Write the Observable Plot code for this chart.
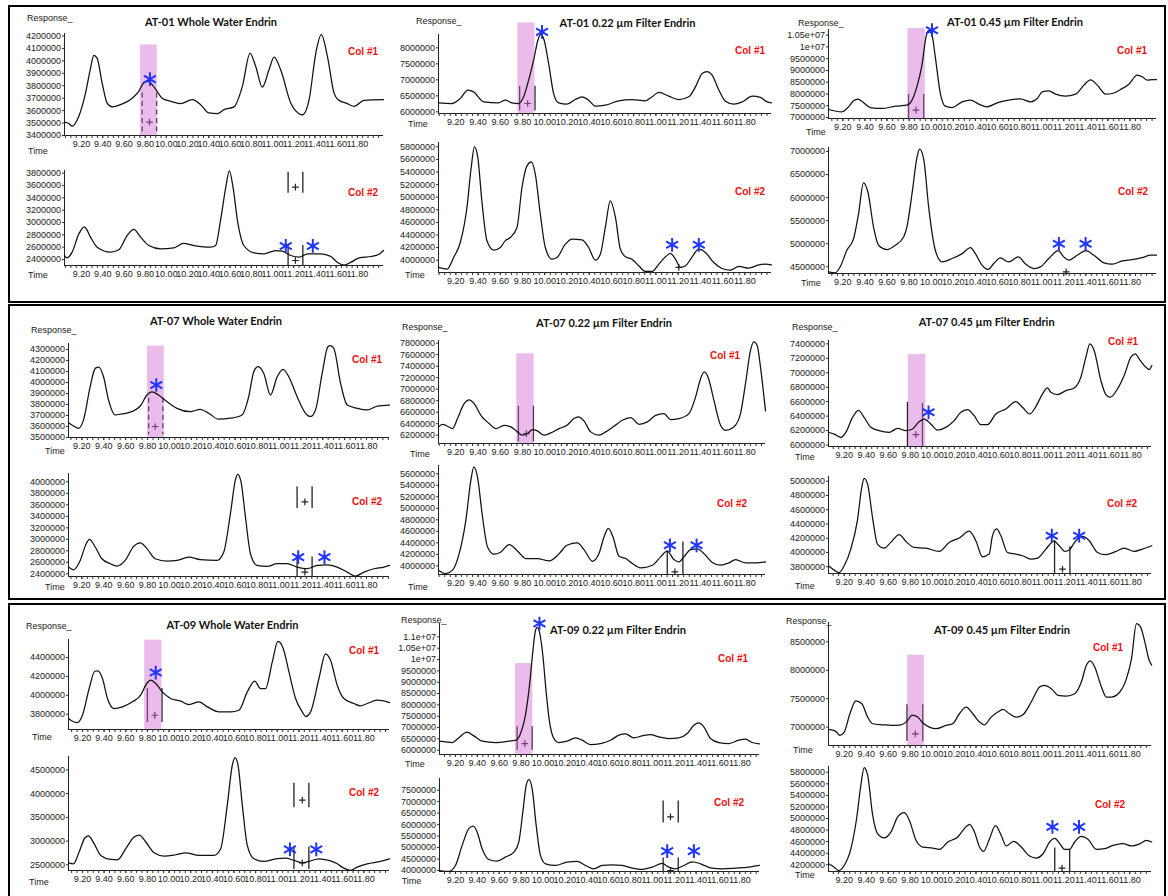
<!DOCTYPE html>
<html><head><meta charset="utf-8">
<script src="https://cdn.jsdelivr.net/npm/d3@7"></script>
<script src="https://cdn.jsdelivr.net/npm/@observablehq/plot@0.6"></script>
<style>
body{margin:0;background:#fff;}
#page{position:relative;width:1168px;height:896px;overflow:hidden;font-family:"Liberation Sans",Arial,sans-serif;color:#1a1a1a;}
.box{position:absolute;border:2px solid #000;box-sizing:border-box;}
.lbl{position:absolute;white-space:nowrap;line-height:1;}
.title{font-family:Lato,"Liberation Sans",sans-serif;font-weight:700;font-size:11px;transform:translate(-50%,-50%);color:#111;}
.resp{font-size:9px;transform:translateY(-50%);}
.time{font-size:9px;transform:translateY(-50%);}
.col{font-weight:700;font-size:10px;color:#f01010;transform:translate(-50%,-50%);}
</style></head><body><div id="page"></div>
<script>
// ---------- DATA (time in min, response in millions) ----------
const xTickLabels = [9.2,9.4,9.6,9.8,10.0,10.2,10.4,10.6,10.8,11.0,11.2,11.4,11.6,11.8];
const titles = ["AT-01 Whole Water Endrin","AT-01 0.22 µm Filter Endrin","AT-01 0.45 µm Filter Endrin",
  "AT-07 Whole Water Endrin","AT-07 0.22 µm Filter Endrin","AT-07 0.45 µm Filter Endrin",
  "AT-09 Whole Water Endrin","AT-09 0.22 µm Filter Endrin","AT-09 0.45 µm Filter Endrin"];

// AT-01 Whole Water
const at01WW_c1 = [[9.04,3.507],[9.08,3.496],[9.112,3.475],[9.175,3.555],[9.238,3.741],[9.285,3.94],[9.316,4.045],[9.348,4.02],[9.395,3.82],[9.442,3.66],[9.49,3.63],[9.568,3.648],[9.678,3.70],[9.74,3.755],[9.788,3.825],[9.828,3.835],[9.898,3.773],[9.96,3.70],[10.04,3.675],[10.134,3.656],[10.244,3.688],[10.323,3.648],[10.40,3.581],[10.48,3.576],[10.543,3.608],[10.637,3.63],[10.716,3.795],[10.788,4.061],[10.842,3.955],[10.904,3.789],[10.967,3.928],[11.015,4.03],[11.077,3.928],[11.172,3.661],[11.25,3.575],[11.282,3.565],[11.345,3.688],[11.408,4.061],[11.46,4.21],[11.518,4.035],[11.58,3.741],[11.618,3.688],[11.706,3.656],[11.77,3.635],[11.863,3.683],[12.046,3.688]];
const at01WW_c2 = [[9.04,2.465],[9.065,2.427],[9.112,2.519],[9.175,2.816],[9.228,2.93],[9.285,2.762],[9.348,2.6],[9.474,2.519],[9.552,2.557],[9.63,2.789],[9.694,2.89],[9.757,2.762],[9.835,2.627],[9.945,2.573],[10.07,2.589],[10.16,2.66],[10.26,2.627],[10.417,2.6],[10.464,2.627],[10.51,3.032],[10.56,3.573],[10.593,3.835],[10.628,3.573],[10.67,3.032],[10.73,2.627],[10.826,2.508],[10.92,2.492],[11.03,2.546],[11.093,2.535],[11.172,2.465],[11.25,2.438],[11.33,2.492],[11.455,2.492],[11.55,2.449],[11.61,2.357],[11.675,2.31],[11.74,2.357],[11.818,2.427],[11.93,2.449],[12.0,2.481],[12.046,2.546]];
// AT-01 0.22
const at01F022_c1 = [[9.044,6.28],[9.164,6.26],[9.24,6.42],[9.308,6.68],[9.36,6.625],[9.45,6.31],[9.584,6.28],[9.644,6.365],[9.704,6.28],[9.765,6.26],[9.81,6.47],[9.855,6.99],[9.9,7.615],[9.94,8.26],[9.963,8.42],[9.99,8.29],[10.035,7.51],[10.08,6.57],[10.125,6.28],[10.2,6.24],[10.275,6.385],[10.335,6.47],[10.395,6.365],[10.455,6.18],[10.545,6.21],[10.665,6.344],[10.785,6.385],[10.905,6.344],[10.966,6.47],[11.026,6.61],[11.116,6.49],[11.206,6.385],[11.296,6.47],[11.356,6.78],[11.416,7.2],[11.46,7.26],[11.506,7.146],[11.566,6.68],[11.626,6.33],[11.7,6.24],[11.777,6.31],[11.867,6.49],[11.94,6.45],[12.0,6.31],[12.04,6.28]];
const at01F022_c2 = [[9.044,3.884],[9.12,3.857],[9.18,4.042],[9.24,4.28],[9.3,4.836],[9.338,5.472],[9.368,5.80],[9.398,5.63],[9.434,4.942],[9.48,4.307],[9.54,4.159],[9.6,4.201],[9.644,4.307],[9.69,4.36],[9.75,4.519],[9.795,5.154],[9.84,5.498],[9.879,5.56],[9.915,5.366],[9.96,4.73],[10.005,4.201],[10.065,4.016],[10.11,4.042],[10.185,4.254],[10.245,4.334],[10.335,4.323],[10.395,4.201],[10.455,4.0],[10.5,4.095],[10.545,4.519],[10.59,4.942],[10.636,4.678],[10.68,4.175],[10.726,4.053],[10.785,4.016],[10.846,3.91],[10.906,3.82],[10.966,3.82],[11.026,3.937],[11.086,4.053],[11.13,4.106],[11.176,4.016],[11.22,3.884],[11.266,3.91],[11.326,4.053],[11.386,4.175],[11.446,4.122],[11.52,3.963],[11.596,3.868],[11.67,3.84],[11.746,3.9],[11.837,3.873],[11.927,3.926],[11.987,3.937],[12.04,3.926]];
// AT-01 0.45
const at01F045_c1 = [[9.07,7.34],[9.19,7.24],[9.251,7.453],[9.297,7.71],[9.336,7.78],[9.378,7.666],[9.448,7.425],[9.554,7.383],[9.675,7.482],[9.78,7.524],[9.826,7.737],[9.87,8.3],[9.916,9.225],[9.953,10.43],[9.977,10.7],[10.007,10.5],[10.037,9.58],[10.083,8.02],[10.128,7.482],[10.188,7.425],[10.28,7.666],[10.355,7.74],[10.43,7.567],[10.506,7.453],[10.597,7.624],[10.70,7.737],[10.808,7.79],[10.9,7.666],[10.96,7.808],[11.005,8.09],[11.065,8.134],[11.126,7.992],[11.216,7.907],[11.307,7.992],[11.383,8.375],[11.443,8.6],[11.504,8.375],[11.58,7.992],[11.64,8.02],[11.715,8.19],[11.79,8.417],[11.866,8.8],[11.911,8.73],[11.957,8.587],[12.002,8.615],[12.04,8.615]];
const at01F045_c2 = [[9.07,4.392],[9.13,4.37],[9.176,4.5],[9.236,4.859],[9.297,5.11],[9.342,5.65],[9.387,6.32],[9.427,6.116],[9.478,5.362],[9.523,4.967],[9.6,4.874],[9.675,4.967],[9.75,5.147],[9.78,5.362],[9.826,6.08],[9.871,6.87],[9.895,7.05],[9.932,6.835],[9.977,5.793],[10.037,4.859],[10.098,4.608],[10.188,4.68],[10.28,4.787],[10.355,4.917],[10.4,4.787],[10.46,4.536],[10.515,4.443],[10.566,4.572],[10.627,4.694],[10.70,4.608],[10.79,4.716],[10.85,4.572],[10.93,4.464],[10.99,4.5],[11.065,4.68],[11.15,4.85],[11.2,4.716],[11.247,4.644],[11.322,4.752],[11.4,4.85],[11.473,4.752],[11.564,4.586],[11.64,4.557],[11.73,4.629],[11.82,4.658],[11.91,4.7],[11.987,4.752],[12.04,4.752]];
// AT-07 Whole Water
const at07WW_c1 = [[9.078,3.635],[9.124,3.605],[9.17,3.584],[9.215,3.66],[9.276,3.962],[9.322,4.128],[9.355,4.14],[9.398,4.052],[9.444,3.84],[9.505,3.705],[9.566,3.714],[9.657,3.735],[9.734,3.786],[9.795,3.886],[9.84,3.915],[9.9,3.886],[9.977,3.826],[10.069,3.765],[10.19,3.735],[10.282,3.756],[10.358,3.72],[10.45,3.666],[10.557,3.675],[10.663,3.705],[10.724,3.871],[10.77,4.098],[10.81,4.145],[10.862,4.082],[10.923,3.886],[10.984,4.052],[11.038,4.12],[11.09,4.052],[11.166,3.871],[11.243,3.72],[11.288,3.69],[11.334,3.75],[11.395,4.082],[11.447,4.324],[11.471,4.335],[11.502,4.309],[11.563,3.992],[11.624,3.795],[11.716,3.765],[11.807,3.75],[11.898,3.786],[12.01,3.795]];
const at07WW_c2 = [[9.078,2.517],[9.124,2.47],[9.185,2.633],[9.24,2.924],[9.27,3.0],[9.322,2.866],[9.383,2.662],[9.46,2.575],[9.52,2.534],[9.596,2.633],[9.673,2.877],[9.734,2.94],[9.795,2.837],[9.87,2.662],[9.977,2.621],[10.069,2.633],[10.176,2.69],[10.282,2.645],[10.435,2.633],[10.496,2.778],[10.557,3.447],[10.602,4.029],[10.624,4.13],[10.654,4.0],[10.694,3.389],[10.74,2.749],[10.8,2.546],[10.892,2.528],[10.984,2.575],[11.075,2.575],[11.166,2.517],[11.258,2.488],[11.35,2.546],[11.44,2.557],[11.532,2.517],[11.624,2.43],[11.7,2.36],[11.776,2.43],[11.868,2.488],[11.96,2.517],[12.01,2.546]];
// AT-07 0.22
const at07F022_c1 = [[9.044,6.344],[9.08,6.39],[9.125,6.356],[9.17,6.315],[9.215,6.49],[9.275,6.749],[9.32,6.815],[9.365,6.749],[9.425,6.546],[9.5,6.402],[9.56,6.315],[9.634,6.373],[9.694,6.344],[9.754,6.258],[9.8,6.2],[9.844,6.229],[9.89,6.298],[9.934,6.275],[9.994,6.2],[10.054,6.24],[10.13,6.315],[10.2,6.373],[10.263,6.49],[10.302,6.52],[10.353,6.448],[10.413,6.258],[10.488,6.2],[10.548,6.258],[10.623,6.356],[10.698,6.46],[10.773,6.506],[10.848,6.39],[10.923,6.431],[10.998,6.546],[11.072,6.575],[11.132,6.471],[11.207,6.488],[11.297,6.575],[11.357,6.864],[11.402,7.182],[11.435,7.3],[11.471,7.199],[11.522,6.806],[11.582,6.373],[11.627,6.286],[11.701,6.344],[11.761,6.575],[11.806,7.095],[11.851,7.673],[11.881,7.82],[11.911,7.76],[11.941,7.384],[11.986,6.621]];
const at07F022_c2 = [[9.044,3.925],[9.11,3.865],[9.17,3.925],[9.23,4.213],[9.29,4.791],[9.335,5.484],[9.362,5.72],[9.395,5.542],[9.44,4.849],[9.485,4.329],[9.545,4.202],[9.605,4.242],[9.68,4.37],[9.754,4.26],[9.83,4.127],[9.934,4.127],[10.04,4.086],[10.13,4.213],[10.2,4.358],[10.293,4.398],[10.353,4.283],[10.43,4.08],[10.488,4.213],[10.533,4.502],[10.572,4.65],[10.614,4.502],[10.668,4.167],[10.728,4.127],[10.788,4.04],[10.863,3.965],[10.968,4.011],[11.042,4.156],[11.102,4.255],[11.162,4.11],[11.207,4.069],[11.252,4.156],[11.312,4.283],[11.372,4.295],[11.432,4.213],[11.507,4.058],[11.582,4.011],[11.657,4.052],[11.717,4.11],[11.806,4.052],[11.896,4.052],[11.986,4.069]];
// AT-07 0.45
const at07F045_c1 = [[9.058,6.175],[9.109,6.152],[9.17,6.106],[9.215,6.175],[9.276,6.383],[9.33,6.48],[9.381,6.383],[9.442,6.245],[9.517,6.199],[9.608,6.175],[9.684,6.231],[9.76,6.199],[9.82,6.222],[9.874,6.314],[9.926,6.36],[9.986,6.291],[10.046,6.208],[10.122,6.245],[10.198,6.337],[10.258,6.453],[10.319,6.49],[10.379,6.406],[10.44,6.282],[10.5,6.282],[10.575,6.43],[10.666,6.499],[10.757,6.6],[10.817,6.522],[10.884,6.43],[10.938,6.531],[10.999,6.707],[11.044,6.79],[11.074,6.73],[11.135,6.698],[11.21,6.753],[11.286,6.79],[11.346,6.938],[11.392,7.215],[11.428,7.4],[11.467,7.308],[11.528,6.892],[11.573,6.698],[11.612,6.661],[11.679,6.776],[11.739,6.961],[11.8,7.215],[11.839,7.26],[11.881,7.178],[11.936,7.077],[11.966,7.044],[11.99,7.1]];
const at07F045_c2 = [[9.058,3.814],[9.109,3.753],[9.155,3.72],[9.2,3.814],[9.26,4.048],[9.32,4.447],[9.36,4.916],[9.381,5.04],[9.412,4.962],[9.457,4.494],[9.502,4.119],[9.563,4.062],[9.623,4.142],[9.699,4.25],[9.76,4.156],[9.835,4.072],[9.94,4.062],[10.062,4.015],[10.152,4.142],[10.243,4.203],[10.334,4.3],[10.394,4.166],[10.454,3.94],[10.515,3.978],[10.545,4.236],[10.582,4.33],[10.621,4.236],[10.681,4.001],[10.757,3.978],[10.817,3.955],[10.893,3.908],[10.953,3.922],[11.029,4.048],[11.104,4.16],[11.15,4.095],[11.204,4.015],[11.24,4.034],[11.301,4.166],[11.361,4.225],[11.422,4.166],[11.497,4.001],[11.573,3.969],[11.664,4.015],[11.739,4.062],[11.83,4.015],[11.906,4.048],[11.99,4.095]];
// AT-09 Whole Water
const at09WW_c1 = [[9.071,3.754],[9.108,3.726],[9.154,3.712],[9.2,3.789],[9.262,4.072],[9.314,4.255],[9.34,4.26],[9.385,4.178],[9.431,3.966],[9.492,3.86],[9.569,3.878],[9.662,3.931],[9.738,4.001],[9.794,4.125],[9.831,4.16],[9.877,4.125],[9.938,4.036],[10.015,3.966],[10.108,3.938],[10.185,3.902],[10.277,3.931],[10.354,3.878],[10.462,3.825],[10.569,3.825],[10.646,3.842],[10.723,4.036],[10.791,4.15],[10.846,4.072],[10.892,4.072],[10.954,4.354],[11.006,4.57],[11.055,4.495],[11.108,4.248],[11.169,3.966],[11.231,3.825],[11.262,3.775],[11.308,3.825],[11.385,4.178],[11.446,4.44],[11.492,4.372],[11.554,4.107],[11.615,3.966],[11.708,3.913],[11.769,3.888],[11.831,3.913],[11.923,3.948],[12.037,3.923]];
const at09WW_c2 = [[9.071,2.542],[9.117,2.521],[9.169,2.769],[9.222,3.065],[9.255,3.11],[9.308,2.945],[9.369,2.698],[9.462,2.613],[9.523,2.606],[9.6,2.839],[9.677,3.087],[9.725,3.125],[9.785,2.981],[9.862,2.754],[9.954,2.684],[10.062,2.712],[10.154,2.75],[10.277,2.698],[10.415,2.698],[10.477,2.839],[10.538,3.758],[10.585,4.606],[10.609,4.76],[10.637,4.606],[10.677,3.758],[10.723,2.91],[10.785,2.627],[10.877,2.571],[10.985,2.627],[11.077,2.641],[11.154,2.592],[11.231,2.542],[11.292,2.571],[11.385,2.627],[11.477,2.592],[11.554,2.521],[11.615,2.429],[11.677,2.385],[11.738,2.45],[11.831,2.521],[11.954,2.571],[12.037,2.627]];
// AT-09 0.22
const at09F022_c1 = [[9.054,6.397],[9.109,6.368],[9.17,6.338],[9.23,6.544],[9.305,6.8],[9.368,6.632],[9.444,6.397],[9.566,6.338],[9.688,6.397],[9.755,6.441],[9.795,6.735],[9.84,7.544],[9.877,8.868],[9.907,10.338],[9.932,11.294],[9.948,11.42],[9.968,11.221],[9.999,10.191],[10.029,8.574],[10.06,7.25],[10.1,6.515],[10.145,6.338],[10.221,6.397],[10.298,6.544],[10.359,6.441],[10.435,6.25],[10.526,6.294],[10.618,6.441],[10.694,6.662],[10.755,6.72],[10.831,6.544],[10.907,6.632],[10.984,6.691],[11.06,6.588],[11.151,6.515],[11.243,6.544],[11.319,6.735],[11.38,7.103],[11.426,7.2],[11.471,7.029],[11.532,6.515],[11.609,6.338],[11.7,6.294],[11.791,6.441],[11.852,6.485],[11.913,6.338],[11.98,6.279]];
const at09F022_c2 = [[9.054,4.0],[9.139,3.96],[9.2,4.219],[9.261,5.094],[9.322,5.823],[9.362,5.93],[9.398,5.677],[9.444,4.948],[9.505,4.481],[9.581,4.408],[9.657,4.583],[9.734,4.802],[9.779,5.24],[9.816,6.552],[9.847,7.719],[9.871,7.96],[9.901,7.573],[9.938,5.969],[9.977,4.656],[10.023,4.292],[10.115,4.219],[10.221,4.365],[10.313,4.394],[10.389,4.219],[10.465,4.073],[10.541,4.219],[10.633,4.248],[10.724,4.219],[10.816,4.102],[10.907,4.044],[10.999,4.146],[11.09,4.31],[11.151,4.146],[11.212,4.073],[11.288,4.219],[11.365,4.38],[11.441,4.292],[11.532,4.117],[11.639,4.073],[11.761,4.102],[11.883,4.146],[11.98,4.219]];
// AT-09 0.45
const at09F045_c1 = [[9.057,6.959],[9.124,6.924],[9.16,6.853],[9.2,6.912],[9.252,7.235],[9.306,7.46],[9.361,7.412],[9.413,7.176],[9.459,7.059],[9.55,7.041],[9.641,7.029],[9.717,7.041],[9.778,7.118],[9.817,7.21],[9.869,7.176],[9.915,7.076],[9.976,7.0],[10.036,6.971],[10.128,7.029],[10.188,7.059],[10.249,7.235],[10.31,7.35],[10.371,7.235],[10.432,7.088],[10.477,7.041],[10.538,7.176],[10.599,7.265],[10.645,7.31],[10.705,7.235],[10.766,7.176],[10.827,7.218],[10.903,7.441],[10.979,7.706],[11.019,7.735],[11.086,7.676],[11.147,7.559],[11.222,7.547],[11.298,7.588],[11.359,7.794],[11.405,8.088],[11.441,8.165],[11.481,8.059],[11.542,7.706],[11.587,7.529],[11.633,7.529],[11.709,7.618],[11.77,7.853],[11.816,8.206],[11.861,8.82],[11.898,8.765],[11.937,8.5],[11.977,8.176],[12.0,8.088]];
const at09F045_c2 = [[9.057,4.217],[9.109,4.159],[9.148,4.101],[9.2,4.188],[9.261,4.478],[9.313,5.0],[9.352,5.58],[9.382,5.88],[9.413,5.754],[9.459,5.058],[9.504,4.739],[9.565,4.664],[9.626,4.768],[9.687,5.029],[9.747,5.1],[9.793,4.971],[9.854,4.623],[9.915,4.507],[10.006,4.49],[10.067,4.467],[10.143,4.594],[10.234,4.681],[10.295,4.826],[10.341,4.9],[10.386,4.768],[10.432,4.507],[10.469,4.432],[10.523,4.652],[10.578,4.875],[10.629,4.71],[10.675,4.525],[10.742,4.606],[10.812,4.507],[10.888,4.351],[10.949,4.316],[11.01,4.391],[11.071,4.594],[11.117,4.655],[11.163,4.565],[11.207,4.467],[11.253,4.467],[11.298,4.594],[11.359,4.69],[11.42,4.641],[11.496,4.467],[11.572,4.478],[11.648,4.536],[11.74,4.565],[11.816,4.525],[11.892,4.565],[11.952,4.623],[12.0,4.594]];

// y tick values (millions)
const yt_at01WW_c1 = [3.4,3.5,3.6,3.7,3.8,3.9,4.0,4.1,4.2];
const yt_at01WW_c2 = [2.4,2.6,2.8,3.0,3.2,3.4,3.6,3.8];
const yt_at01F022_c1 = [6.0,6.5,7.0,7.5,8.0];
const yt_at01F022_c2 = [4.0,4.2,4.4,4.6,4.8,5.0,5.2,5.4,5.6,5.8];
const yt_at01F045_c1 = [7.0,7.5,8.0,8.5,9.0,9.5,10.0,10.5];
const yt_at01F045_c2 = [4.5,5.0,5.5,6.0,6.5,7.0];
const yt_at07WW_c1 = [3.5,3.6,3.7,3.8,3.9,4.0,4.1,4.2,4.3];
const yt_at07WW_c2 = [2.4,2.6,2.8,3.0,3.2,3.4,3.6,3.8,4.0];
const yt_at07F022_c1 = [6.2,6.4,6.6,6.8,7.0,7.2,7.4,7.6,7.8];
const yt_at07F022_c2 = [4.0,4.2,4.4,4.6,4.8,5.0,5.2,5.4,5.6];
const yt_at07F045_c1 = [6.0,6.2,6.4,6.6,6.8,7.0,7.2,7.4];
const yt_at07F045_c2 = [3.8,4.0,4.2,4.4,4.6,4.8,5.0];
const yt_at09WW_c1 = [3.8,4.0,4.2,4.4];
const yt_at09WW_c2 = [2.5,3.0,3.5,4.0,4.5];
const yt_at09F022_c1 = [6.0,6.5,7.0,7.5,8.0,8.5,9.0,9.5,10.0,10.5,11.0];
const yt_at09F022_c2 = [4.0,4.5,5.0,5.5,6.0,6.5,7.0,7.5];
const yt_at09F045_c1 = [7.0,7.5,8.0,8.5];
const yt_at09F045_c2 = [4.2,4.4,4.6,4.8,5.0,5.2,5.4,5.6,5.8];

// integration windows [tStart, tEnd, topResponse]
const win_at01WW = [9.757,9.914,4.128];
const win_at01F022 = [9.758,9.912,8.78];
const win_at01F045 = [9.789,9.947,10.78];
const win_at07WW = [9.80,9.953,4.33];
const win_at07F022 = [9.748,9.904,7.615];
const win_at07F045 = [9.783,9.94,7.252];
const win_at09WW = [9.775,9.935,4.584];
const win_at09F022 = [9.749,9.907,9.824];
const win_at09F045 = [9.778,9.93,8.265];

// peak boundary lines [time, fromResp, toResp]
const bnd_at01WW_c1 = [[9.772,3.741,3.408],[9.908,3.741,3.408]];
const bnd_at01WW_c2 = [[11.147,3.816,3.476],[11.286,3.816,3.476],[11.147,2.627,2.303],[11.286,2.627,2.303]];
const bnd_at01F022_c1 = [[9.774,6.80,6.03],[9.912,6.80,6.03]];
const bnd_at01F045_c1 = [[9.795,7.98,6.96],[9.932,7.98,6.96]];
const bnd_at07WW_c1 = [[9.81,3.856,3.524],[9.94,3.856,3.524]];
const bnd_at07WW_c2 = [[11.166,3.913,3.535],[11.303,3.913,3.535],[11.166,2.691,2.353],[11.303,2.691,2.353]];
const bnd_at07F022_c1 = [[9.763,6.702,6.084],[9.898,6.702,6.084]];
const bnd_at07F022_c2 = [[11.102,4.26,3.85],[11.243,4.416,3.85]];
const bnd_at07F045_c1 = [[9.774,6.591,5.98],[9.91,6.577,5.98]];
const bnd_at07F045_c2 = [[11.108,4.166,3.706],[11.247,4.081,3.706]];
const bnd_at09WW_c1 = [[9.8,4.072,3.712],[9.935,4.072,3.712]];
const bnd_at09WW_c2 = [[11.154,4.217,3.701],[11.292,4.217,3.701],[11.154,2.875,2.401],[11.292,2.875,2.401]];
const bnd_at09F022_c1 = [[9.764,7.029,6.0],[9.901,7.029,6.0]];
const bnd_at09F022_c2 = [[11.099,7.033,6.071],[11.237,7.033,6.071],[11.099,4.54,3.956],[11.237,4.54,3.956]];
const bnd_at09F045_c1 = [[9.772,7.394,6.747],[9.915,7.394,6.747]];
const bnd_at09F045_c2 = [[11.117,4.49,4.084],[11.253,4.467,4.084]];

// "+" markers [time, resp]
const plus_at01WW_c1 = [[9.841,3.507]];
const plus_at01WW_c2 = [[11.216,3.573],[11.216,2.384]];
const plus_at01F022_c1 = [[9.846,6.26]];
const plus_at01F022_c2 = [[11.206,3.884]];
const plus_at01F045_c1 = [[9.862,7.31]];
const plus_at01F045_c2 = [[11.222,4.39]];
const plus_at07WW_c1 = [[9.87,3.6]];
const plus_at07WW_c2 = [[11.237,3.651],[11.237,2.43]];
const plus_at07F022_c1 = [[9.835,6.229]];
const plus_at07F022_c2 = [[11.171,3.896]];
const plus_at07F045_c1 = [[9.85,6.143]];
const plus_at07F045_c2 = [[11.18,3.767]];
const plus_at09WW_c1 = [[9.868,3.789]];
const plus_at09WW_c2 = [[11.231,3.864],[11.231,2.542]];
const plus_at09F022_c1 = [[9.834,6.294]];
const plus_at09F022_c2 = [[11.166,6.333],[11.166,4.0]];
const plus_at09F045_c1 = [[9.848,6.882]];
const plus_at09F045_c2 = [[11.183,4.142]];

// blue asterisks [time, resp]
const star_at01WW_c1 = [[9.845,3.853]];
const star_at01WW_c2 = [[11.125,2.62],[11.38,2.62]];
const star_at01F022_c1 = [[9.975,8.5]];
const star_at01F022_c2 = [[11.146,4.244],[11.386,4.244]];
const star_at01F045_c1 = [[10.007,10.71]];
const star_at01F045_c2 = [[11.156,5.0],[11.398,5.0]];
const star_at07WW_c1 = [[9.88,3.977]];
const star_at07WW_c2 = [[11.176,2.69],[11.416,2.69]];
const star_at07F022_c2 = [[11.126,4.358],[11.366,4.358]];
const star_at07F045_c1 = [[9.965,6.453]];
const star_at07F045_c2 = [[11.083,4.236],[11.331,4.236]];
const star_at09WW_c1 = [[9.877,4.241]];
const star_at09WW_c2 = [[11.117,2.825],[11.36,2.825]];
const star_at09F022_c1 = [[9.968,11.59]];
const star_at09F022_c2 = [[11.136,4.846],[11.38,4.846]];
const star_at09F045_c2 = [[11.096,4.855],[11.338,4.855]];

// ---------- LAYOUT ----------
const page = document.getElementById("page");
[[8,5,1158,298],[8,304,1158,296],[8,603,1158,300]].forEach(([l,t,w,h])=>{
  const d=document.createElement("div"); d.className="box";
  Object.assign(d.style,{left:l+"px",top:t+"px",width:w+"px",height:h+"px"}); page.appendChild(d);
});

const panels = [
 {title:titles[0], tp:[211,20.5], rp:[27,17.5], c1:[363,52], c2:[363,193], t1:[28,151], t2:[28,275],
  s1:{frame:[64,383,33,135], xd:[9.04,12.046], yd:[3.40,4.22], yt:yt_at01WW_c1, trace:at01WW_c1, win:win_at01WW, bnd:bnd_at01WW_c1, dashed:true, plus:plus_at01WW_c1, star:star_at01WW_c1},
  s2:{frame:[64,383,170,265], xd:[9.04,12.046], yd:[2.303,3.843], yt:yt_at01WW_c2, trace:at01WW_c2, bnd:bnd_at01WW_c2, plus:plus_at01WW_c2, star:star_at01WW_c2}},
 {title:titles[1], tp:[627.5,21.5], rp:[416,20.7], c1:[750,51], c2:[750,192], t1:[408,124.3], t2:[405,275.3],
  s1:{frame:[438,771,34,113], xd:[9.044,12.04], yd:[5.948,8.417], yt:yt_at01F022_c1, trace:at01F022_c1, win:win_at01F022, bnd:bnd_at01F022_c1, plus:plus_at01F022_c1, star:star_at01F022_c1},
  s2:{frame:[438,771,142,272], xd:[9.044,12.04], yd:[3.804,5.869], yt:yt_at01F022_c2, trace:at01F022_c2, plus:plus_at01F022_c2, star:star_at01F022_c2}},
 {title:titles[2], tp:[1015,20.7], rp:[798,23.3], c1:[1132,51], c2:[1133,192], t1:[806,132.3], t2:[801,282.7],
  s1:{frame:[828,1156,29,118], xd:[9.07,12.04], yd:[6.958,10.74], yt:yt_at01F045_c1, trace:at01F045_c1, win:win_at01F045, bnd:bnd_at01F045_c1, plus:plus_at01F045_c1, star:star_at01F045_c1},
  s2:{frame:[828,1156,147,273], xd:[9.07,12.04], yd:[4.356,7.086], yt:yt_at01F045_c2, trace:at01F045_c2, plus:plus_at01F045_c2, star:star_at01F045_c2}},
 {title:titles[3], tp:[216,320], rp:[31,330], c1:[367,360], c2:[367,502], t1:[45,450.7], t2:[45,587.3],
  s1:{frame:[68,389,343,437], xd:[9.078,12.01], yd:[3.50,4.354], yt:yt_at07WW_c1, trace:at07WW_c1, win:win_at07WW, bnd:bnd_at07WW_c1, dashed:true, plus:plus_at07WW_c1, star:star_at07WW_c1},
  s2:{frame:[68,389,473,576], xd:[9.078,12.01], yd:[2.353,4.145], yt:yt_at07WW_c2, trace:at07WW_c2, bnd:bnd_at07WW_c2, plus:plus_at07WW_c2, star:star_at07WW_c2}},
 {title:titles[4], tp:[604,321.7], rp:[402,326.7], c1:[725,355.7], c2:[732,504], t1:[410,454], t2:[408,586.7],
  s1:{frame:[438,765,340,443], xd:[9.044,11.986], yd:[6.056,7.846], yt:yt_at07F022_c1, trace:at07F022_c1, win:win_at07F022, bnd:bnd_at07F022_c1, plus:plus_at07F022_c1, star:[]},
  s2:{frame:[438,765,465,574], xd:[9.044,11.986], yd:[3.85,5.744], yt:yt_at07F022_c2, trace:at07F022_c2, bnd:bnd_at07F022_c2, plus:plus_at07F022_c2, star:star_at07F022_c2}},
 {title:titles[5], tp:[986.7,321], rp:[792,326.7], c1:[1123,341.7], c2:[1122,504], t1:[795,456.7], t2:[795,585.7],
  s1:{frame:[828,1151,340,446], xd:[9.058,11.987], yd:[5.98,7.446], yt:yt_at07F045_c1, trace:at07F045_c1, win:win_at07F045, bnd:bnd_at07F045_c1, plus:plus_at07F045_c1, star:star_at07F045_c1},
  s2:{frame:[828,1151,476,573], xd:[9.058,11.987], yd:[3.706,5.066], yt:yt_at07F045_c2, trace:at07F045_c2, bnd:bnd_at07F045_c2, plus:plus_at07F045_c2, star:star_at07F045_c2}},
 {title:titles[6], tp:[232.5,624], rp:[26,625.7], c1:[364,651.3], c2:[364,793], t1:[32,737], t2:[29,882],
  s1:{frame:[68,389,639,729], xd:[9.071,12.037], yd:[3.638,4.591], yt:yt_at09WW_c1, trace:at09WW_c1, win:win_at09WW, bnd:bnd_at09WW_c1, plus:plus_at09WW_c1, star:star_at09WW_c1},
  s2:{frame:[68,389,756,870], xd:[9.071,12.037], yd:[2.38,4.783], yt:yt_at09WW_c2, trace:at09WW_c2, bnd:bnd_at09WW_c2, plus:plus_at09WW_c2, star:star_at09WW_c2}},
 {title:titles[7], tp:[618,629], rp:[401,620.3], c1:[733,658.7], c2:[729,803], t1:[405,763.7], t2:[401.7,880.7],
  s1:{frame:[439,759,623,754], xd:[9.054,11.98], yd:[5.81,11.59], yt:yt_at09F022_c1, trace:at09F022_c1, win:win_at09F022, bnd:bnd_at09F022_c1, plus:plus_at09F022_c1, star:star_at09F022_c1},
  s2:{frame:[439,759,778,871], xd:[9.054,11.98], yd:[3.956,8.01], yt:yt_at09F022_c2, trace:at09F022_c2, bnd:bnd_at09F022_c2, plus:plus_at09F022_c2, star:star_at09F022_c2}},
 {title:titles[8], tp:[1002,629], rp:[786,620.7], c1:[1108,648], c2:[1110,804.7], t1:[793,750.3], t2:[795,875.3],
  s1:{frame:[828,1151,622,745], xd:[9.057,11.998], yd:[6.676,8.841], yt:yt_at09F045_c1, trace:at09F045_c1, win:win_at09F045, bnd:bnd_at09F045_c1, plus:plus_at09F045_c1, star:[]},
  s2:{frame:[828,1151,766,871], xd:[9.057,11.998], yd:[4.084,5.899], yt:yt_at09F045_c2, trace:at09F045_c2, bnd:bnd_at09F045_c2, plus:plus_at09F045_c2, star:star_at09F045_c2}}
];

const fmtResp = v => { const n = Math.round(v*1e6); return n >= 1e7 ? (n/1e7) + "e+07" : String(n); };
const fmtTime = d3.format(".2f");

function drawSub(s) {
  const [x0,x1,y0,y1] = s.frame;
  const mL=54, mR=8, mT=36, mB=18;
  const minor = d3.range(Math.ceil(s.xd[0]*20)/20, s.xd[1], 0.05);
  const marks = [
    Plot.ruleX([s.xd[0]], {stroke:"#222", strokeWidth:1}),
    Plot.ruleY([s.yd[0]], {stroke:"#222", strokeWidth:1}),
    Plot.axisX({ticks: minor, tickFormat: () => "", tickSize: 3, stroke:"#333", label:null}),
    Plot.axisX({ticks: xTickLabels, tickFormat: fmtTime, tickSize: 3, tickPadding: 2, stroke:"#333", label:null}),
    Plot.axisY({ticks: s.yt, tickFormat: fmtResp, tickSize: 2, tickPadding: 1.5, stroke:"#333", label:null})
  ];
  if (s.bnd) marks.push(Plot.ruleX(s.bnd, {x: d=>d[0], y1: d=>d[1], y2: d=>d[2], stroke:"#222", strokeWidth:1.3, ...(s.dashed ? {strokeDasharray:"5,3.5"} : {})}));
  if (s.plus) marks.push(Plot.dot(s.plus, {x: d=>d[0], y: d=>d[1], symbol:"plus", r:2.3, stroke:"#222", strokeWidth:1.2}));
  if (s.win) marks.push(Plot.rect([s.win], {x1: d=>d[0], x2: d=>d[1], y1: () => s.yd[0], y2: d=>d[2], fill:"#d26bd2", fillOpacity:0.45}));
  marks.push(Plot.line(s.trace, {x: d=>d[0], y: d=>d[1], curve:"monotone-x", stroke:"#111", strokeWidth:1.25}));
  if (s.star && s.star.length) marks.push(Plot.dot(s.star, {x: d=>d[0], y: d=>d[1], symbol:"asterisk", r:6.5, stroke:"#1f35ff", strokeWidth:2}));
  const svg = Plot.plot({
    width: (x1-x0)+mL+mR, height: (y1-y0)+mT+mB,
    marginLeft:mL, marginRight:mR, marginTop:mT, marginBottom:mB,
    x:{domain:s.xd}, y:{domain:s.yd},
    style:{fontFamily:'"Liberation Sans",Arial,sans-serif', fontSize:"9px", color:"#1a1a1a", background:"transparent", overflow:"visible", position:"absolute", left:(x0-mL)+"px", top:(y0-mT)+"px", maxWidth:"none"},
    marks
  });
  page.appendChild(svg);
}

function label(cls, text, [x,y]) {
  const d=document.createElement("div"); d.className="lbl "+cls; d.textContent=text;
  d.style.left=x+"px"; d.style.top=y+"px"; page.appendChild(d);
}

panels.forEach(p => {
  drawSub(p.s1); drawSub(p.s2);
  label("title", p.title, p.tp);
  label("resp", "Response_", p.rp);
  label("col", "Col #1", p.c1);
  label("col", "Col #2", p.c2);
  label("time", "Time", p.t1);
  label("time", "Time", p.t2);
});
</script></body></html>
